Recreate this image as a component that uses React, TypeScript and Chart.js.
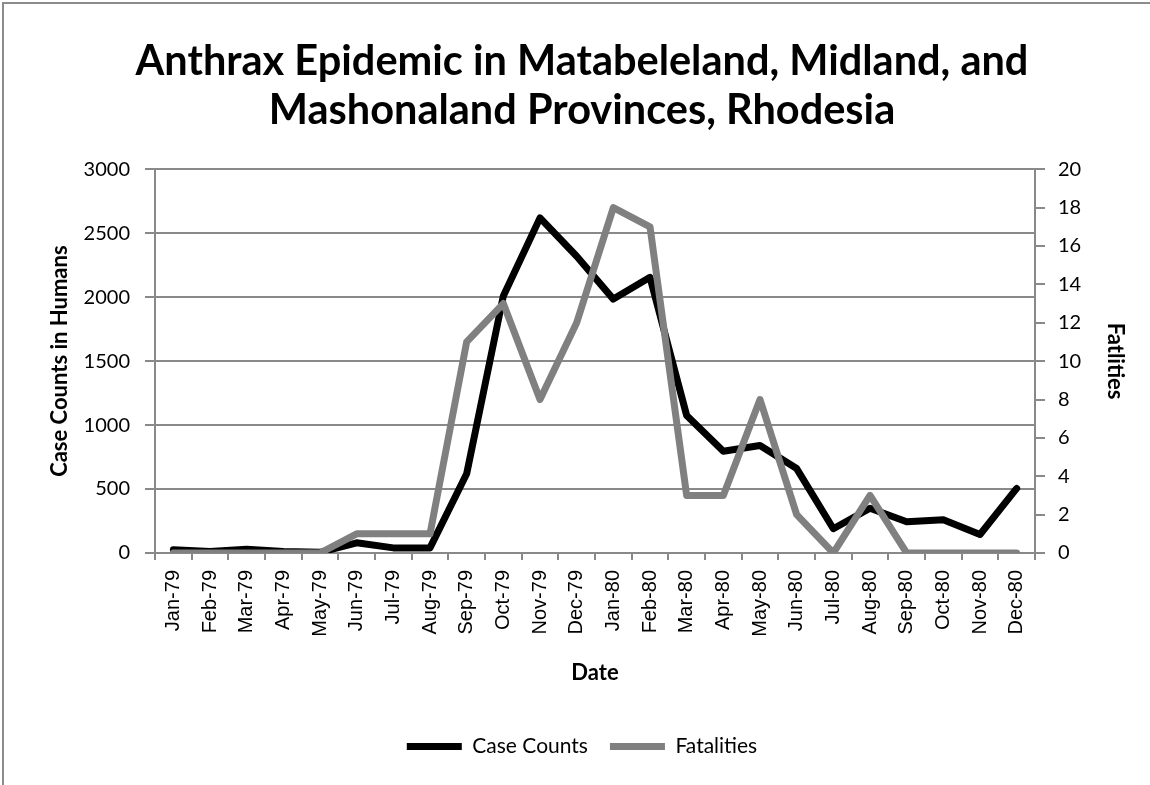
import React, { useEffect, useRef } from "react";
import { Chart, registerables } from "chart.js";

Chart.register(...registerables);

const titleLines = ["Anthrax Epidemic in Matabeleland, Midland, and", "Mashonaland Provinces, Rhodesia"];
const months = [
  "Jan-79", "Feb-79", "Mar-79", "Apr-79", "May-79", "Jun-79", "Jul-79", "Aug-79", "Sep-79", "Oct-79", "Nov-79", "Dec-79",
  "Jan-80", "Feb-80", "Mar-80", "Apr-80", "May-80", "Jun-80", "Jul-80", "Aug-80", "Sep-80", "Oct-80", "Nov-80", "Dec-80",
];
const caseCounts = [25, 12, 30, 12, 5, 80, 40, 40, 620, 2010, 2620, 2320, 1985, 2155, 1075, 795, 840, 660, 190, 350, 245, 260, 145, 505];
const fatalities = [0, 0, 0, 0, 0, 1, 1, 1, 11, 13, 8, 12, 18, 17, 3, 3, 8, 2, 0, 3, 0, 0, 0, 0];
const leftAxis = { min: 0, max: 3000, step: 500 };
const rightAxis = { min: 0, max: 20, step: 2 };

const GRID = "#898989";

export default function App() {
  const ref = useRef<HTMLCanvasElement | null>(null);

  useEffect(() => {
    if (!ref.current) return;
    const chart = new Chart(ref.current, {
      type: "line",
      data: {
        labels: months,
        datasets: [
          {
            label: "Case Counts",
            data: caseCounts,
            borderColor: "#000000",
            backgroundColor: "#000000",
            borderWidth: 7,
            borderCapStyle: "round",
            borderJoinStyle: "round",
            pointRadius: 0,
            pointHoverRadius: 0,
            tension: 0,
            yAxisID: "y",
            order: 1,
          },
          {
            label: "Fatalities",
            data: fatalities,
            borderColor: "#808080",
            backgroundColor: "#808080",
            borderWidth: 7,
            borderCapStyle: "round",
            borderJoinStyle: "round",
            pointRadius: 0,
            pointHoverRadius: 0,
            tension: 0,
            yAxisID: "y1",
            order: 0,
          },
        ],
      },
      options: {
        animation: false,
        responsive: false,
        maintainAspectRatio: false,
        layout: { padding: { left: 14, right: 0, top: 0, bottom: 18 } },
        plugins: {
          tooltip: { enabled: false },
          title: {
            display: true,
            text: titleLines,
            color: "#000",
            font: { family: "Lato", size: 41.5, weight: "bold", lineHeight: 1.16 },
            padding: { top: 38, bottom: 35 },
          },
          legend: {
            display: true,
            position: "bottom",
            labels: {
              usePointStyle: true,
              pointStyle: "line",
              pointStyleWidth: 55,
              boxHeight: 6,
              padding: 22,
              color: "#000",
              font: { family: "Lato", size: 21 },
              sort: (a: any, b: any) => a.datasetIndex - b.datasetIndex,
            },
          },
        },
        scales: {
          x: {
            type: "category",
            offset: true,
            border: { display: true, color: GRID, width: 2 },
            grid: { display: true, offset: true, drawOnChartArea: false, drawTicks: true, tickLength: 7, color: GRID, lineWidth: 2 },
            ticks: {
              autoSkip: false,
              minRotation: 90,
              maxRotation: 90,
              padding: 10,
              color: "#000",
              font: { family: "Liberation Sans", size: 20 },
            },
            title: {
              display: true,
              text: "Date",
              color: "#000",
              font: { family: "Lato", size: 22, weight: "bold" },
              padding: { top: 0, bottom: 28 },
            },
            afterFit: (s: any) => { s.height = 161; },
          },
          y: {
            type: "linear",
            position: "left",
            min: leftAxis.min,
            max: leftAxis.max,
            border: { display: true, color: GRID, width: 2 },
            grid: { color: GRID, lineWidth: 2, drawTicks: true, tickLength: 10 },
            ticks: {
              stepSize: leftAxis.step,
              padding: 15,
              color: "#000",
              font: { family: "Lato", size: 20 },
              callback: (v: any) => String(v),
            },
            title: {
              display: true,
              text: "Case Counts in Humans",
              color: "#000",
              font: { family: "Lato", size: 22, weight: "bold" },
              padding: { top: 33, bottom: 0 },
            },
            afterFit: (s: any) => { s.width = 141; },
          },
          y1: {
            type: "linear",
            position: "right",
            min: rightAxis.min,
            max: rightAxis.max,
            border: { display: true, color: GRID, width: 2 },
            grid: { drawOnChartArea: false, color: GRID, lineWidth: 2, drawTicks: true, tickLength: 10 },
            ticks: {
              stepSize: rightAxis.step,
              padding: 13,
              color: "#000",
              font: { family: "Lato", size: 20 },
              callback: (v: any) => String(v),
            },
            title: {
              display: true,
              text: "Fatlities",
              color: "#000",
              font: { family: "Lato", size: 22, weight: "bold" },
              padding: { top: 22, bottom: 0 },
            },
            afterFit: (s: any) => { s.width = 115; },
          },
        },
      },
    });
    return () => chart.destroy();
  }, []);

  return (
    <div style={{ position: "absolute", left: 0, top: 0, width: 1150, height: 785, background: "#fff", overflow: "hidden" }}>
      <div
        style={{
          position: "absolute",
          left: 2,
          top: 2,
          width: 1160,
          height: 800,
          borderTop: "2px solid #8c8c8c",
          borderLeft: "2px solid #8c8c8c",
        }}
      />
      <canvas ref={ref} width={1150} height={785} style={{ position: "absolute", left: 0, top: 0, width: 1150, height: 785 }} />
    </div>
  );
}
